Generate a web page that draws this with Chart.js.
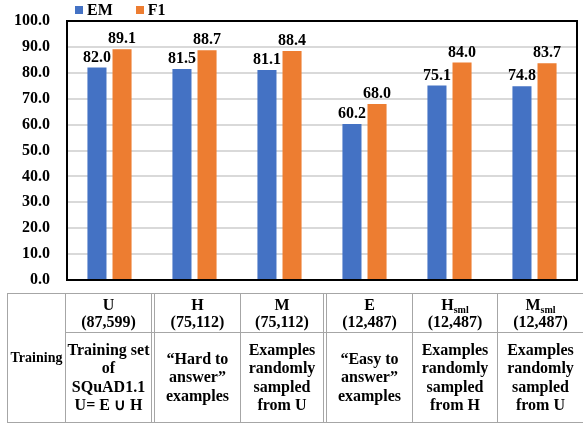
<!DOCTYPE html>
<html>
<head>
<meta charset="utf-8">
<script src="https://cdn.jsdelivr.net/npm/chart.js@4/dist/chart.umd.min.js"></script>
<style>
  body { margin: 0; background: #fff; font-family: "Liberation Serif", "Times New Roman", serif; }
  #wrap { position: relative; width: 583px; height: 423px; overflow: hidden; }
  #chart { position: absolute; left: 0; top: 0; }
  #legend { position: absolute; left: 75px; top: 1px; font: bold 16px "Liberation Serif", serif; display: flex; gap: 23px; }
  #legend span.item { display: flex; align-items: center; }
  #legend span.sw { display: inline-block; width: 8px; height: 8px; margin-right: 4px; }
  #tbl { position: absolute; left: 0; top: 0; width: 583px; height: 423px; }
  .ln { position: absolute; background: #a6a6a6; }
  .cell { position: absolute; display: flex; align-items: center; justify-content: center; text-align: center;
          font-weight: bold; font-size: 16px; color: #000; }
  .cell.head { line-height: 17.5px; }
  .cell.body { line-height: 18.5px; }
  .cell.lab { font-size: 14px; }
  span.sub { font-size: 10px; line-height: 10px; position: relative; top: 3px; }
</style>
</head>
<body>
<div id="wrap">
  <canvas id="chart" width="583" height="290"></canvas>
  <div id="legend"></div>
  <div id="tbl"></div>
</div>
<script>
// ===== DATA =====
const categories = ["U", "H", "M", "E", "Hsml", "Msml"];
const emValues = [82.0, 81.5, 81.1, 60.2, 75.1, 74.8];
const f1Values = [89.1, 88.7, 88.4, 68.0, 84.0, 83.7];
const seriesNames = ["EM", "F1"];
const seriesColors = ["#4472C4", "#ED7D31"];
const yTicks = [0, 10, 20, 30, 40, 50, 60, 70, 80, 90, 100];

// table texts
const colHeads = ["U", "H", "M", "E", 'H<span class="sub">sml</span>', 'M<span class="sub">sml</span>'];
const colSizes = ["(87,599)", "(75,112)", "(75,112)", "(12,487)", "(12,487)", "(12,487)"];
const colDescs = [
  "Training set<br>of<br>SQuAD1.1<br>U= E &cup; H",
  "&ldquo;Hard to<br>answer&rdquo;<br>examples",
  "Examples<br>randomly<br>sampled<br>from U",
  "&ldquo;Easy to<br>answer&rdquo;<br>examples",
  "Examples<br>randomly<br>sampled<br>from H",
  "Examples<br>randomly<br>sampled<br>from U"
];
const doubleBefore = [1, 3]; // columns that get a double left border

// ===== LEGEND =====
const legend = document.getElementById("legend");
seriesNames.forEach((name, i) => {
  const item = document.createElement("span");
  item.className = "item";
  item.innerHTML = `<span class="sw" style="background:${seriesColors[i]}"></span>${name}`;
  legend.appendChild(item);
});

// ===== TABLE (grid of boxes under the plot) =====
const colX = [7, 65, 151, 240, 323, 412, 497, 600];
const rowY = [293, 332, 422];
const tbl = document.getElementById("tbl");

function addLine(x, y, w, h) {
  const d = document.createElement("div");
  d.className = "ln";
  d.style.cssText = `left:${x}px;top:${y}px;width:${w}px;height:${h}px`;
  tbl.appendChild(d);
}
function addCell(x0, x1, y0, y1, html, cls) {
  const d = document.createElement("div");
  d.className = "cell " + cls;
  d.style.cssText = `left:${x0}px;top:${y0}px;width:${x1 - x0}px;height:${y1 - y0}px`;
  d.innerHTML = html;
  tbl.appendChild(d);
}

addLine(colX[0], rowY[0], 583 - colX[0], 1);
addLine(colX[1], rowY[1], 583 - colX[1], 1);
addLine(colX[0], rowY[2], 583 - colX[0], 1);
colX.slice(0, -1).forEach((x, i) => {
  addLine(x, rowY[0], 1, rowY[2] - rowY[0]);
  if (doubleBefore.includes(i - 1)) addLine(x + 3, rowY[0], 1, rowY[2] - rowY[0]);
});

addCell(colX[0] + 1, colX[1], rowY[0] + 1, rowY[2], "Training", "lab");
colHeads.forEach((h, i) => {
  const x0 = colX[i + 1] + (doubleBefore.includes(i) ? 4 : 1);
  const x1 = i === colHeads.length - 1 ? 583 : colX[i + 2];
  addCell(x0, x1, rowY[0] + 1, rowY[1], `<div>${h}<br>${colSizes[i]}</div>`, "head");
  addCell(x0, x1, rowY[1] + 1, rowY[2], `<div>${colDescs[i]}</div>`, "body");
});

// ===== CHART =====
const frame = {
  id: "frame",
  afterDatasetsDraw(chart) {
    const a = chart.chartArea;
    const c = chart.ctx;
    c.save();
    c.strokeStyle = "#000";
    c.lineWidth = 2;
    c.strokeRect(a.left, a.top, a.right - a.left, a.bottom - a.top);
    c.restore();
  }
};

const valueLabels = {
  id: "valueLabels",
  afterDatasetsDraw(chart) {
    const c = chart.ctx;
    c.save();
    c.font = 'bold 16px "Liberation Serif", serif';
    c.fillStyle = "#000";
    c.textAlign = "center";
    c.textBaseline = "bottom";
    chart.data.datasets.forEach((ds, di) => {
      chart.getDatasetMeta(di).data.forEach((bar, i) => {
        c.fillText(ds.data[i].toFixed(1), bar.x, bar.y - 2);
      });
    });
    c.restore();
  }
};

new Chart(document.getElementById("chart"), {
  type: "bar",
  data: {
    labels: categories,
    datasets: seriesNames.map((name, i) => ({
      label: name,
      data: i === 0 ? emValues : f1Values,
      backgroundColor: seriesColors[i],
      categoryPercentage: 0.59,
      barPercentage: 0.76
    }))
  },
  options: {
    responsive: false,
    animation: false,
    layout: { padding: { top: 21, right: 6, bottom: 10, left: 0 } },
    plugins: { legend: { display: false }, tooltip: { enabled: false } },
    scales: {
      x: {
        afterFit: s => { s.height = 0; },
        ticks: { display: false },
        grid: { display: false, drawTicks: false },
        border: { display: false }
      },
      y: {
        min: 0,
        max: 100,
        afterBuildTicks: s => { s.ticks = yTicks.map(v => ({ value: v })); },
        // fixed axis width; tick padding would otherwise also pad the plot top/bottom
        afterFit: s => { s.width = 67; s.paddingTop = 0; s.paddingBottom = 0; },
        ticks: {
          padding: 17,
          color: "#000",
          font: { family: "Liberation Serif", size: 16, weight: "bold" },
          callback: v => v.toFixed(1)
        },
        grid: { color: "#d9d9d9", lineWidth: 2, drawTicks: false },
        border: { display: false }
      }
    }
  },
  plugins: [frame, valueLabels]
});
</script>
</body>
</html>
